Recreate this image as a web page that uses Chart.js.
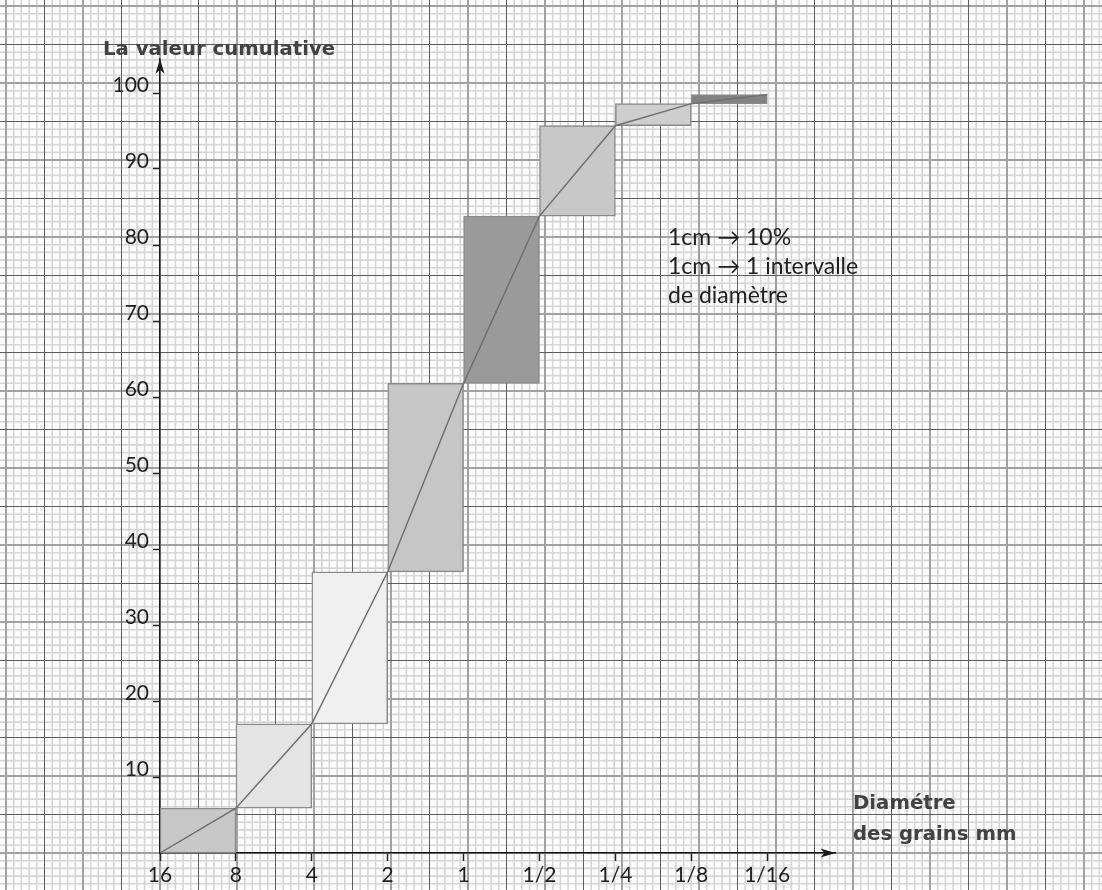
<!DOCTYPE html>
<html>
<head>
<meta charset="utf-8">
<script src="https://cdn.jsdelivr.net/npm/chart.js@4/dist/chart.umd.min.js"></script>
<style>
  html, body { margin: 0; padding: 0; background: #fff; }
  #wrap { width: 1102px; height: 890px; }
</style>
</head>
<body>
<div id="wrap"><canvas id="c" width="1102" height="890"></canvas></div>
<script>
// ---- data ----
const categories = ['16', '8', '4', '2', '1', '1/2', '1/4', '1/8', '1/16'];
const cumulative = [0, 5.9, 17, 37, 61.8, 83.8, 95.7, 98.6, 99.8];
const yTickValues = [10, 20, 30, 40, 50, 60, 70, 80, 90, 100];
const boxColors = ['#c8c8c8', '#e4e4e4', '#f0f0f0', '#c6c6c6', '#9a9a9a', '#c8c8c8', '#cecece', '#828282'];
const yTitle = 'La valeur cumulative';
const xTitle = ['Diamétre', 'des grains mm'];
const note = ['1cm \u2192 10%', '1cm \u2192 1 intervalle', 'de diamètre'];

// ---- derived datasets ----
const boxes = [];
for (let i = 0; i < cumulative.length - 1; i++) {
  boxes.push({ x: i + 0.5, y: [cumulative[i], cumulative[i + 1]] });
}
const curve = cumulative.map((v, i) => ({ x: i, y: v }));

const labelFont = 'Lato, "DejaVu Sans", sans-serif';

const paperPlugin = {
  id: 'paper',
  beforeDraw(chart) {
    const ctx = chart.ctx;
    const W = chart.width, H = chart.height;
    const x0 = chart.scales.x.getPixelForValue(0);
    const y0 = chart.scales.y.getPixelForValue(0);
    const P = 38.5, m = P / 5;
    ctx.save();
    ctx.fillStyle = '#ffffff';
    ctx.fillRect(0, 0, W, H);
    ctx.strokeStyle = '#d6d6d6';
    ctx.lineWidth = 1.6;
    ctx.beginPath();
    for (let k = -Math.ceil(x0 / m); x0 + k * m <= W; k++) {
      if (k % 5 === 0) continue;
      const x = x0 + k * m; ctx.moveTo(x, 0); ctx.lineTo(x, H);
    }
    for (let k = -Math.ceil((H - y0) / m); y0 - k * m >= 0; k++) {
      if (k % 5 === 0) continue;
      const y = y0 - k * m; ctx.moveTo(0, y); ctx.lineTo(W, y);
    }
    ctx.stroke();
    const drawMajor = (odd, color, width) => {
      ctx.strokeStyle = color; ctx.lineWidth = width; ctx.beginPath();
      for (let k = -Math.ceil(x0 / P); x0 + k * P <= W; k++) {
        if ((Math.abs(k) % 2 === 1) !== odd) continue;
        const x = x0 + k * P; ctx.moveTo(x, 0); ctx.lineTo(x, H);
      }
      for (let k = -Math.ceil((H - y0) / P); y0 - k * P >= 0; k++) {
        if ((Math.abs(k) % 2 === 1) !== odd) continue;
        const y = y0 - k * P; ctx.moveTo(0, y); ctx.lineTo(W, y);
      }
      ctx.stroke();
    };
    drawMajor(false, '#a2a2a2', 2);
    drawMajor(true, '#5c5c5c', 1);
    ctx.restore();
  },
  afterDraw(chart) {
    const ctx = chart.ctx;
    const a = chart.chartArea;
    ctx.save();
    ctx.fillStyle = '#1a1a1a';
    ctx.beginPath();
    ctx.moveTo(a.left, a.top);
    ctx.lineTo(a.left + 4.5, a.top + 15);
    ctx.lineTo(a.left, a.top + 11);
    ctx.lineTo(a.left - 4.5, a.top + 15);
    ctx.closePath();
    ctx.fill();
    ctx.beginPath();
    ctx.moveTo(a.right, a.bottom);
    ctx.lineTo(a.right - 15, a.bottom - 4.5);
    ctx.lineTo(a.right - 11, a.bottom);
    ctx.lineTo(a.right - 15, a.bottom + 4.5);
    ctx.closePath();
    ctx.fill();
    ctx.fillStyle = '#424242';
    ctx.font = 'bold 19.7px "DejaVu Sans", sans-serif';
    ctx.textAlign = 'left';
    ctx.textBaseline = 'alphabetic';
    ctx.fillText(yTitle, 103, 55);
    ctx.fillText(xTitle[0], 853, 809);
    ctx.fillText(xTitle[1], 853, 840);
    ctx.fillStyle = '#1e1e1e';
    ctx.font = '400 23px ' + labelFont;
    note.forEach((t, i) => ctx.fillText(t, 668, 245 + i * 29));
    ctx.restore();
  }
};

new Chart(document.getElementById('c'), {
  type: 'bar',
  data: {
    datasets: [
      {
        type: 'line',
        data: curve,
        borderColor: '#707070',
        borderWidth: 1.5,
        pointRadius: 0,
        fill: false,
        tension: 0,
        order: 0
      },
      {
        type: 'bar',
        data: boxes,
        backgroundColor: boxColors,
        borderColor: '#8a8a8a',
        borderWidth: 1.5,
        borderSkipped: false,
        barPercentage: 1,
        categoryPercentage: 1,
        order: 1
      }
    ]
  },
  options: {
    responsive: false,
    animation: false,
    layout: { padding: { top: 58.8, right: 266.5, left: 0, bottom: 0 } },
    plugins: { legend: { display: false }, tooltip: { enabled: false } },
    scales: {
      x: {
        type: 'linear',
        min: 0,
        max: 8.9,
        offset: false,
        afterBuildTicks: s => { s.ticks = categories.map((_, i) => ({ value: i })); },
        afterFit: s => { s.height = 37; },
        grid: { display: true, drawOnChartArea: false, offset: false, color: 'rgba(0,0,0,0)', tickColor: '#222', tickLength: 8, tickWidth: 1.5 },
        border: { display: true, color: '#1a1a1a', width: 1.5 },
        ticks: {
          autoSkip: false, maxRotation: 0, includeBounds: false, padding: 2,
          callback: v => categories[v] ?? '',
          font: { family: labelFont, size: 21, weight: 400 },
          color: '#1e1e1e'
        }
      },
      y: {
        type: 'linear',
        min: 0,
        max: 104.5,
        afterBuildTicks: s => { s.ticks = yTickValues.map(v => ({ value: v })); },
        afterFit: s => { s.width = 160; },
        grid: { display: true, drawOnChartArea: false, color: 'rgba(0,0,0,0)', tickColor: '#222', tickLength: 7, tickWidth: 1.5 },
        border: { display: true, color: '#1a1a1a', width: 1.5 },
        ticks: {
          padding: 4, labelOffset: -8,
          callback: v => String(v),
          font: { family: labelFont, size: 21, weight: 400 },
          color: '#1e1e1e'
        }
      }
    }
  },
  plugins: [paperPlugin]
});
</script>
</body>
</html>
